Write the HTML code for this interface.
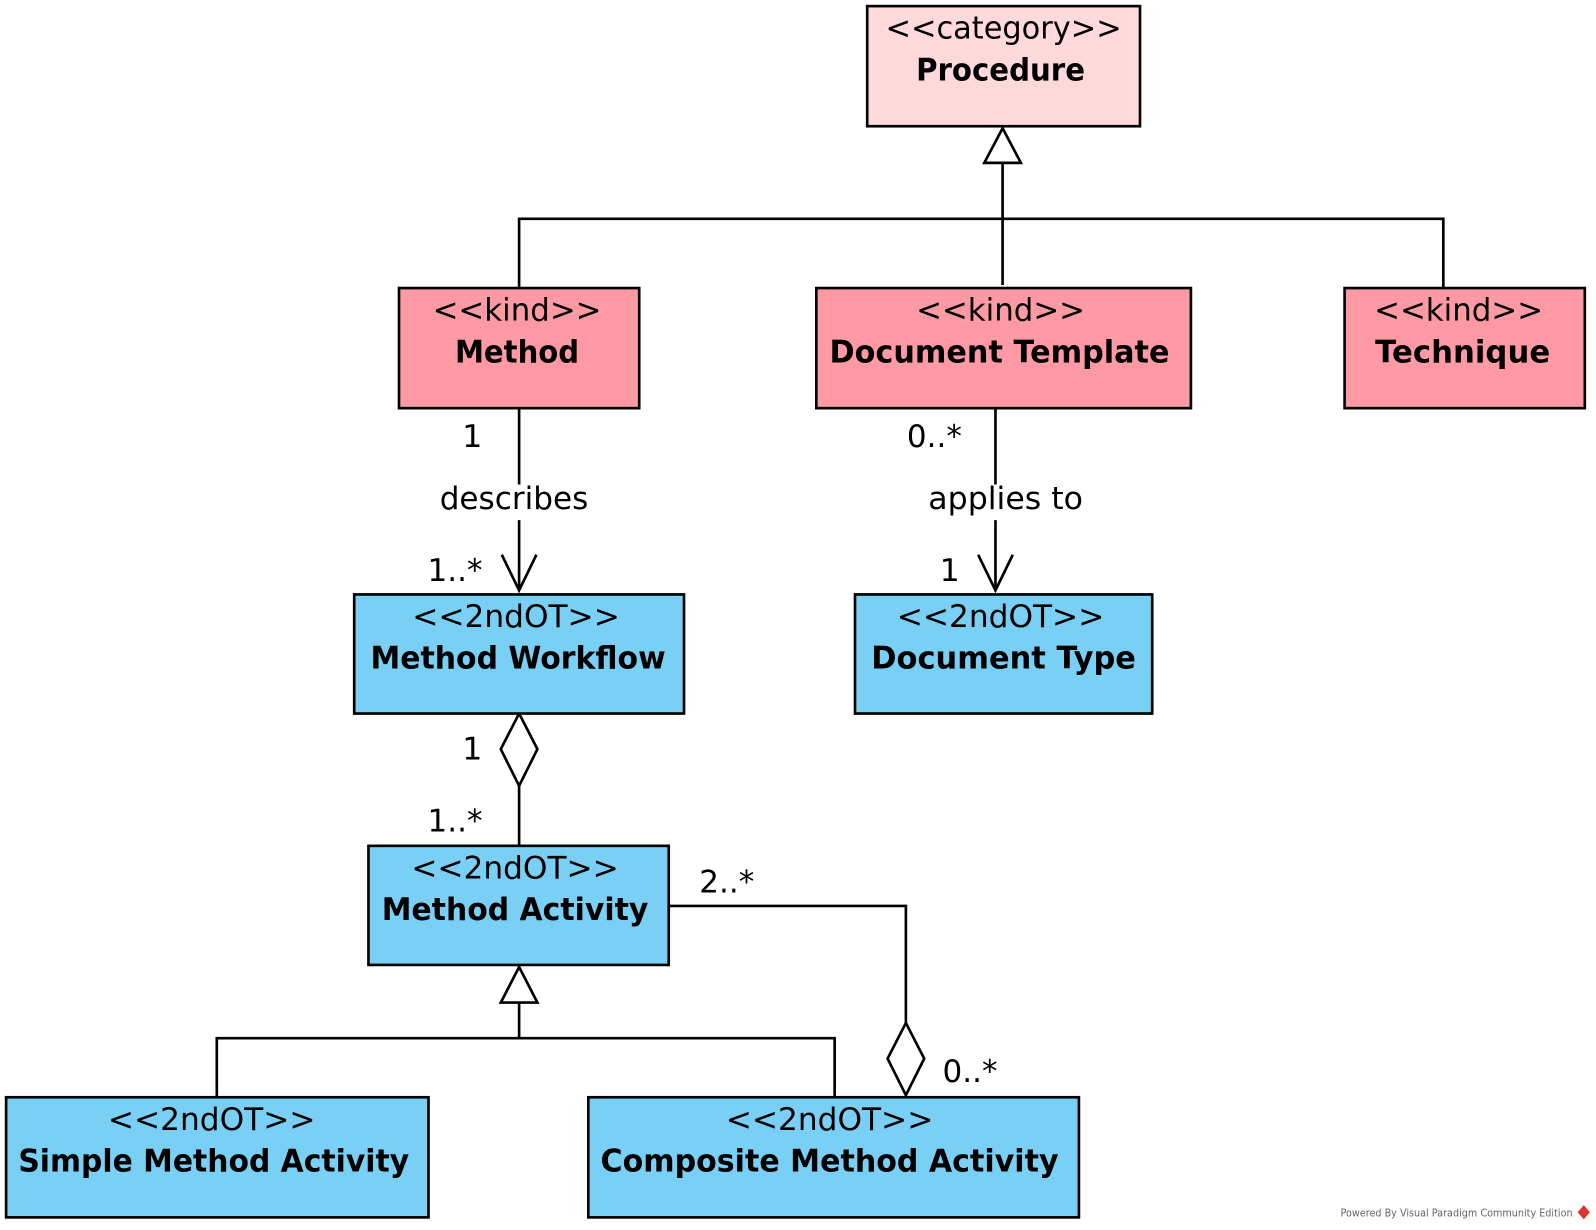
<!DOCTYPE html>
<html><head><meta charset="utf-8"><style>
html,body{margin:0;padding:0;background:#fff;}
svg{display:block;}
text{font-family:"DejaVu Sans","Liberation Sans",sans-serif;fill:#000;}
.s{font-size:31px;}
.b{font-size:31px;font-weight:bold;}
.l{font-size:31px;}
</style></head><body>
<svg width="1596" height="1230" viewBox="0 0 1568 1208.4" xmlns="http://www.w3.org/2000/svg">
<g stroke="#000" stroke-width="2.6" fill="none">
<polyline points="510,283 510,215 1418,215 1418,283"/>
<line x1="985" y1="160" x2="985" y2="280"/>
<polygon points="985,126 967,160 1003,160" fill="#fff"/>
<line x1="510" y1="401" x2="510" y2="476"/>
<line x1="510" y1="511" x2="510" y2="580"/>
<polyline points="493,545 510,580 527,545"/>
<line x1="978" y1="401" x2="978" y2="476"/>
<line x1="978" y1="511" x2="978" y2="580"/>
<polyline points="961,545 978,580 995,545"/>
<line x1="510" y1="772" x2="510" y2="831"/>
<polygon points="510,701 528,736 510,772 492,736" fill="#fff"/>
<polyline points="213,1078 213,1020 820,1020 820,1078"/>
<line x1="510" y1="985" x2="510" y2="1020"/>
<polygon points="510,950 492,985 528,985" fill="#fff"/>
<polyline points="657,890 890,890 890,1005"/>
<polygon points="890,1005 908,1040 890,1076 872,1040" fill="#fff"/>
</g>
<g stroke="#000" stroke-width="2.6">
<rect x="852" y="6" width="268" height="118" fill="#FFD9DC"/>
<rect x="392" y="283" width="236" height="118" fill="#FF99A3"/>
<rect x="802" y="283" width="368" height="118" fill="#FF99A3"/>
<rect x="1321" y="283" width="236" height="118" fill="#FF99A3"/>
<rect x="348" y="584" width="324" height="117" fill="#7ACFF5"/>
<rect x="840" y="584" width="292" height="117" fill="#7ACFF5"/>
<rect x="362" y="831" width="295" height="117" fill="#7ACFF5"/>
<rect x="6" y="1078" width="415" height="118" fill="#7ACFF5"/>
<rect x="578" y="1078" width="482" height="118" fill="#7ACFF5"/>
</g>
<g text-anchor="middle">
<text class="s" x="986" y="38" textLength="232" lengthAdjust="spacingAndGlyphs">&lt;&lt;category&gt;&gt;</text>
<text class="b" x="983" y="79" textLength="166" lengthAdjust="spacingAndGlyphs">Procedure</text>
<text class="s" x="508" y="315" textLength="166" lengthAdjust="spacingAndGlyphs">&lt;&lt;kind&gt;&gt;</text>
<text class="b" x="508" y="356" textLength="122" lengthAdjust="spacingAndGlyphs">Method</text>
<text class="s" x="983" y="315" textLength="166" lengthAdjust="spacingAndGlyphs">&lt;&lt;kind&gt;&gt;</text>
<text class="b" x="982" y="356" textLength="334" lengthAdjust="spacingAndGlyphs">Document Template</text>
<text class="s" x="1433" y="315" textLength="166" lengthAdjust="spacingAndGlyphs">&lt;&lt;kind&gt;&gt;</text>
<text class="b" x="1437" y="356" textLength="172" lengthAdjust="spacingAndGlyphs">Technique</text>
<text class="s" x="507" y="616" textLength="204" lengthAdjust="spacingAndGlyphs">&lt;&lt;2ndOT&gt;&gt;</text>
<text class="b" x="509" y="657" textLength="290" lengthAdjust="spacingAndGlyphs">Method Workflow</text>
<text class="s" x="983" y="616" textLength="204" lengthAdjust="spacingAndGlyphs">&lt;&lt;2ndOT&gt;&gt;</text>
<text class="b" x="986" y="657" textLength="260" lengthAdjust="spacingAndGlyphs">Document Type</text>
<text class="s" x="506" y="863" textLength="204" lengthAdjust="spacingAndGlyphs">&lt;&lt;2ndOT&gt;&gt;</text>
<text class="b" x="506" y="904" textLength="262" lengthAdjust="spacingAndGlyphs">Method Activity</text>
<text class="s" x="208" y="1110" textLength="204" lengthAdjust="spacingAndGlyphs">&lt;&lt;2ndOT&gt;&gt;</text>
<text class="b" x="210" y="1151" textLength="384" lengthAdjust="spacingAndGlyphs">Simple Method Activity</text>
<text class="s" x="815" y="1110" textLength="204" lengthAdjust="spacingAndGlyphs">&lt;&lt;2ndOT&gt;&gt;</text>
<text class="b" x="815" y="1151" textLength="450" lengthAdjust="spacingAndGlyphs">Composite Method Activity</text>
<text class="l" x="464" y="439">1</text>
<text class="l" x="505" y="500" textLength="146" lengthAdjust="spacingAndGlyphs">describes</text>
<text class="l" x="447" y="571" textLength="54" lengthAdjust="spacingAndGlyphs">1..*</text>
<text class="l" x="918" y="439" textLength="54" lengthAdjust="spacingAndGlyphs">0..*</text>
<text class="l" x="988" y="500" textLength="152" lengthAdjust="spacingAndGlyphs">applies to</text>
<text class="l" x="933" y="571">1</text>
<text class="l" x="464" y="746">1</text>
<text class="l" x="447" y="817" textLength="54" lengthAdjust="spacingAndGlyphs">1..*</text>
<text class="l" x="714" y="877" textLength="54" lengthAdjust="spacingAndGlyphs">2..*</text>
<text class="l" x="953" y="1063" textLength="54" lengthAdjust="spacingAndGlyphs">0..*</text>
</g>
<text x="1317" y="1195" font-size="10" style="fill:#666" textLength="228" lengthAdjust="spacingAndGlyphs">Powered By Visual Paradigm Community Edition</text>
<polygon points="1556,1184 1562,1191 1556,1198 1550,1191" fill="#d33"/>
</svg>
</body></html>
